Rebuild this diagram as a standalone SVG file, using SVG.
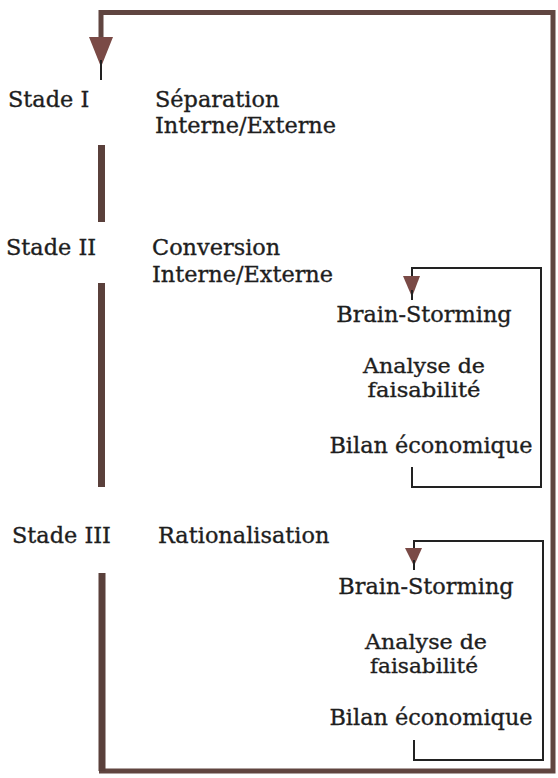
<svg xmlns="http://www.w3.org/2000/svg" width="558" height="778" viewBox="0 0 558 778">
<style>
text{font-family:"DejaVu Serif","Liberation Serif",serif;font-size:22.4px;fill:#1e1e1e;stroke:#1e1e1e;stroke-width:0.35}
.c{text-anchor:middle}
.s{font-size:20px}
.thick{stroke:#5a403b;stroke-width:7;fill:none}
.frame{stroke:#604540;stroke-width:5;fill:none}
.thin{stroke:#222;stroke-width:2;fill:none}
.head{fill:#7a4a46}
</style>
<rect width="558" height="778" fill="#fff"/>
<g id="connectors">
<polyline class="frame" points="101,40 101,12.5 553,12.5 553,771 99,771"/>
<polygon class="head" points="89,37 113,37 101,67"/>
<line class="thin" x1="101" y1="60" x2="101" y2="80" stroke-width="1.5"/>
<line class="thick" x1="101.5" y1="145" x2="101.5" y2="222"/>
<line class="thick" x1="101.5" y1="283" x2="101.5" y2="487"/>
<line class="thick" x1="102" y1="573" x2="102" y2="771"/>
<polyline class="thin" points="412,467 412,487 541,487 541,268 412,268 412,282"/>
<polygon class="head" points="403,276 420,276 412,297"/>
<line class="thin" x1="412" y1="290" x2="412" y2="300" stroke-width="1.2"/>
<polyline class="thin" points="414,740 414,760 543,760 543,541 414,541 414,552"/>
<polygon class="head" points="405,548 422,548 414,566"/>
<line class="thin" x1="414" y1="560" x2="414" y2="570" stroke-width="1.2"/>
</g>
<g id="stade1">
<text x="8" y="107">Stade I</text>
<text x="155" y="107">Séparation</text>
<text x="155" y="133">Interne/Externe</text>
</g>
<g id="stade2">
<text x="6" y="255">Stade II</text>
<text x="152" y="255">Conversion</text>
<text x="152" y="282">Interne/Externe</text>
</g>
<g id="loop1">
<text class="c" x="424" y="322">Brain-Storming</text>
<text class="c s" x="424" y="373" textLength="122" lengthAdjust="spacingAndGlyphs">Analyse de</text>
<text class="c s" x="424" y="397" textLength="113" lengthAdjust="spacingAndGlyphs">faisabilité</text>
<text class="c" x="431" y="453">Bilan économique</text>
</g>
<g id="stade3">
<text x="12" y="543">Stade III</text>
<text x="158" y="543">Rationalisation</text>
</g>
<g id="loop2">
<text class="c" x="426" y="594">Brain-Storming</text>
<text class="c s" x="426" y="649" textLength="122" lengthAdjust="spacingAndGlyphs">Analyse de</text>
<text class="c s" x="424" y="673" textLength="108" lengthAdjust="spacingAndGlyphs">faisabilité</text>
<text class="c" x="431" y="725">Bilan économique</text>
</g>
</svg>
